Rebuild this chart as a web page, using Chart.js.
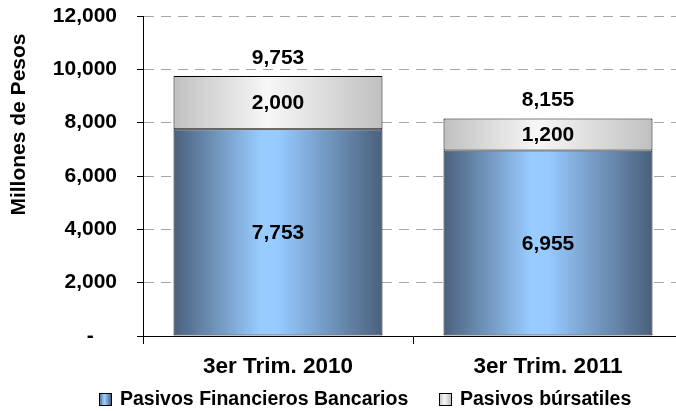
<!DOCTYPE html>
<html>
<head>
<meta charset="utf-8">
<script src="https://cdn.jsdelivr.net/npm/chart.js@4.4.1/dist/chart.umd.min.js"></script>
<style>
  html, body { margin: 0; padding: 0; background: #fff; overflow: hidden; }
</style>
</head>
<body>
<canvas id="chart" width="683" height="411"></canvas>
<script>
// ── data ──
const categories = ['3er Trim. 2010', '3er Trim. 2011'];
const bancarios = [7753, 6955];
const bursatiles = [2000, 1200];
const seriesNames = ['Pasivos Financieros Bancarios', 'Pasivos búrsatiles'];
const yMax = 12000;
const yStep = 2000;

const FONT = '"Liberation Sans", Arial, sans-serif';
const BAR_PCT = 0.774;
const blueStops = [[0, '#4a607c'], [0.42, '#99ccff'], [0.5, '#97caff'], [1, '#4a607c']];
const greyStops = [[0, '#c0c0c0'], [0.45, '#f7f7f7'], [1, '#c0c0c0']];

const fmt = v => v.toLocaleString('en-US');

// horizontal gradient across each bar
function barGradient(c, stops) {
  const chart = c.chart;
  const xs = chart.scales.x;
  if (!xs || !chart.chartArea) return stops[1][1];
  const cx = xs.getPixelForValue(c.dataIndex);
  const half = xs.width / categories.length * BAR_PCT / 2;
  const g = chart.ctx.createLinearGradient(cx - half, 0, cx + half, 0);
  stops.forEach(([o, col]) => g.addColorStop(o, col));
  return g;
}

// segment values + totals on top
const valueLabels = {
  id: 'valueLabels',
  afterDatasetsDraw(chart) {
    const { ctx } = chart;
    ctx.save();
    ctx.font = 'bold 21px ' + FONT;
    ctx.fillStyle = '#000';
    ctx.textAlign = 'center';
    ctx.textBaseline = 'middle';
    chart.data.datasets.forEach((ds, i) => {
      chart.getDatasetMeta(i).data.forEach((bar, j) => {
        ctx.fillText(fmt(ds.data[j]), bar.x, (bar.y + bar.base) / 2 + 1);
      });
    });
    const last = chart.getDatasetMeta(chart.data.datasets.length - 1).data;
    last.forEach((bar, j) => {
      const total = chart.data.datasets.reduce((s, d) => s + d.data[j], 0);
      ctx.fillText(fmt(total), bar.x, bar.y - 18);
    });
    ctx.restore();
  }
};

// legend row at the bottom
const bottomLegend = {
  id: 'bottomLegend',
  afterDraw(chart) {
    const { ctx } = chart;
    const items = [
      { x: 99, stops: blueStops, text: seriesNames[0] },
      { x: 439, stops: greyStops, text: seriesNames[1] }
    ];
    const y = 400;
    ctx.save();
    ctx.font = 'bold 19.5px ' + FONT;
    ctx.textBaseline = 'middle';
    ctx.textAlign = 'left';
    items.forEach(it => {
      const g = ctx.createLinearGradient(it.x, 0, it.x + 12, 0);
      it.stops.forEach(([o, col]) => g.addColorStop(o, col));
      ctx.fillStyle = g;
      ctx.fillRect(it.x + 0.5, y - 6.5, 12, 12);
      ctx.strokeStyle = '#000';
      ctx.lineWidth = 1;
      ctx.strokeRect(it.x + 0.5, y - 6.5, 12, 12);
      ctx.fillStyle = '#000';
      ctx.fillText(it.text, it.x + 21, y);
    });
    ctx.restore();
  }
};

new Chart(document.getElementById('chart'), {
  type: 'bar',
  data: {
    labels: categories,
    datasets: [
      {
        label: seriesNames[0],
        data: bancarios,
        backgroundColor: c => barGradient(c, blueStops),
        borderColor: '#000',
        borderWidth: 1,
        borderSkipped: false,
        categoryPercentage: 1,
        barPercentage: BAR_PCT
      },
      {
        label: seriesNames[1],
        data: bursatiles,
        backgroundColor: c => barGradient(c, greyStops),
        borderColor: '#000',
        borderWidth: 1,
        borderSkipped: false,
        categoryPercentage: 1,
        barPercentage: BAR_PCT
      }
    ]
  },
  options: {
    responsive: false,
    animation: false,
    layout: { padding: { top: 0, right: 0, bottom: 30, left: 0 } },
    plugins: {
      legend: { display: false },
      tooltip: { enabled: false }
    },
    scales: {
      x: {
        stacked: true,
        afterFit: s => { s.height = 45; },
        grid: {
          offset: true,
          drawOnChartArea: false,
          tickLength: 8,
          tickColor: '#000'
        },
        border: { color: '#000', width: 1 },
        ticks: {
          color: '#000',
          padding: 9,
          font: { family: FONT, size: 22.5, weight: 'bold' }
        }
      },
      y: {
        stacked: true,
        min: 0,
        max: yMax,
        afterFit: s => { s.width = 143; s.paddingTop = 16; s.paddingBottom = 0; },
        grid: {
          color: '#a6a6a6',
          tickLength: 6,
          tickColor: '#000',
          tickBorderDash: []
        },
        border: { color: '#000', width: 1, dash: [10, 7] },
        ticks: {
          stepSize: yStep,
          color: '#000',
          padding: 20,
          font: { family: FONT, size: 21, weight: 'bold' },
          callback: v => v === 0 ? '-    ' : fmt(v)
        },
        title: {
          display: true,
          text: 'Millones de Pesos   ',
          align: 'end',
          color: '#000',
          padding: { top: 7, bottom: 0 },
          font: { family: FONT, size: 21, weight: 'bold' }
        }
      }
    }
  },
  plugins: [valueLabels, bottomLegend]
});
</script>
</body>
</html>
